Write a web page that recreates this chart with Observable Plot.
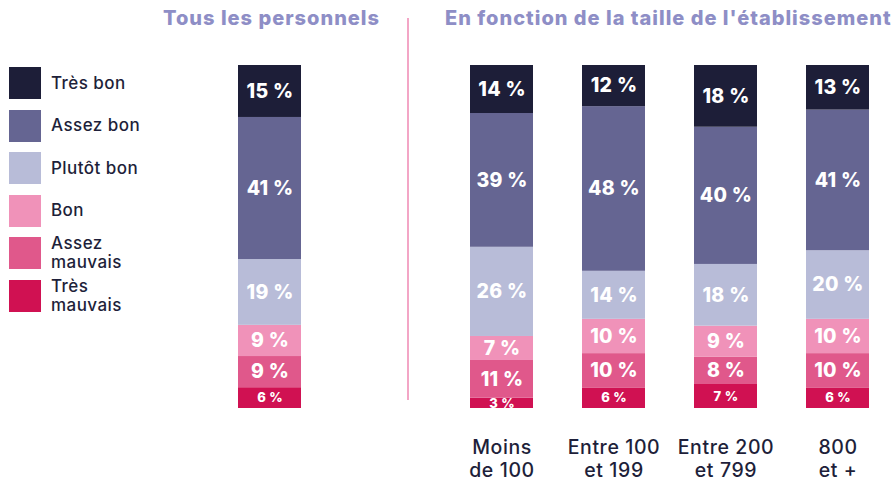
<!DOCTYPE html>
<html><head><meta charset="utf-8">
<script src="https://cdn.jsdelivr.net/npm/d3@7"></script>
<script src="https://cdn.jsdelivr.net/npm/@observablehq/plot@0.6"></script>
<style>
body{margin:0;background:#fff;font-family:Inter,"Noto Sans",sans-serif;}
#wrap{position:relative;width:891px;height:484px;overflow:hidden;}
.title{position:absolute;top:5px;font-weight:800;font-size:20px;line-height:26px;color:#8e8ec6;white-space:nowrap;letter-spacing:1px}
#divider{position:absolute;left:407px;top:18px;width:2px;height:382px;background:#f3a6c6}
#legend{position:absolute;left:9px;top:0}
.item{position:absolute;left:0;display:flex;align-items:center;height:32px;}
.sw{width:32px;height:32px;margin-right:10px;flex:none}
.lab{font-size:17px;font-weight:500;color:#1e1f3a;letter-spacing:0.45px;white-space:nowrap}
.lab div{line-height:19px;height:19px}
#chartA{position:absolute;left:0;top:0}
#chartB{position:absolute;left:408px;top:0}
svg [aria-label="x-axis tick label"] text{letter-spacing:0.6px}
svg [aria-label="text"] text{letter-spacing:0.3px}
</style></head><body>
<div id="wrap">
  <div class="title" style="left:163px">Tous les personnels</div>
  <div class="title" style="left:445px">En fonction de la taille de l'établissement</div>
  <div id="divider"></div>
  <div id="legend"></div>
  <div id="chartA"></div>
  <div id="chartB"></div>
</div>
<script>
const categories = ["Très bon", "Assez bon", "Plutôt bon", "Bon", "Assez mauvais", "Très mauvais"];
const legendLabels = [["Très bon"], ["Assez bon"], ["Plutôt bon"], ["Bon"], ["Assez", "mauvais"], ["Très", "mauvais"]];
const colors = ["#1d1e38", "#656592", "#b8bcd8", "#f092b9", "#e0588b", "#d01152"];
const groups = ["Tous les personnels", "Moins de 100", "Entre 100 et 199", "Entre 200 et 799", "800 et +"];
const groupLabels = ["", "Moins\nde 100", "Entre 100\net 199", "Entre 200\net 799", "800\net +"];
// values in category order (Très bon → Très mauvais)
const tous = [15, 41, 19, 9, 9, 6];
const moins100 = [14, 39, 26, 7, 11, 3];
const entre100 = [12, 48, 14, 10, 10, 6];
const entre200 = [18, 40, 18, 9, 8, 7];
const plus800 = [13, 41, 20, 10, 10, 6];
const series = [tous, moins100, entre100, entre200, plus800];

const rows = [];
groups.forEach((g, gi) => {
  for (let ci = categories.length - 1; ci >= 0; ci--) {
    rows.push({group: g, category: categories[ci], value: series[gi][ci]});
  }
});
const labelMap = new Map(groups.map((g, i) => [g, groupLabels[i]]));

// legend
const legend = document.getElementById("legend");
categories.forEach((c, i) => {
  const it = document.createElement("div");
  it.className = "item";
  it.style.top = (67 + i * 42.6) + "px";
  it.innerHTML = `<div class="sw" style="background:${colors[i]}"></div><div class="lab">${legendLabels[i].map(l => `<div>${l}</div>`).join("")}</div>`;
  legend.appendChild(it);
});

function stackMarks(data) {
  return [
    Plot.barY(data, Plot.stackY({x: "group", y: "value", fill: "category", offset: "normalize"})),
    Plot.text(data, Plot.stackY({
      x: "group", y: "value", z: "category", offset: "normalize",
      text: d => `${d.value} %`,
      fill: "white", fontWeight: 800,
      fontSize: d => d.category === "Très mauvais" ? 13 : 19.5
    }))
  ];
}
const common = {
  height: 484, marginTop: 65, marginBottom: 76,
  y: {axis: null},
  color: {domain: categories, range: colors},
  style: {fontFamily: "Inter, sans-serif", background: "transparent", overflow: "visible"}
};

const chartA = Plot.plot({
  ...common,
  width: 408, marginLeft: 238, marginRight: 107,
  x: {domain: groups.slice(0, 1), padding: 0, axis: null},
  marks: stackMarks(rows.filter(d => d.group === groups[0]))
});

const chartB = Plot.plot({
  ...common,
  width: 483, marginLeft: 61, marginRight: 21,
  x: {domain: groups.slice(1), paddingInner: 0.441, paddingOuter: 0, label: null},
  marks: [
    ...stackMarks(rows.filter(d => d.group !== groups[0])),
    Plot.axisX({
      tickSize: 0, tickPadding: 30, fontSize: 19.5, lineHeight: 1.15,
      fill: "#1e1f3a", fontWeight: 500,
      tickFormat: g => labelMap.get(g) ?? ""
    })
  ]
});
document.getElementById("chartA").appendChild(chartA);
document.getElementById("chartB").appendChild(chartB);
</script>
</body></html>
